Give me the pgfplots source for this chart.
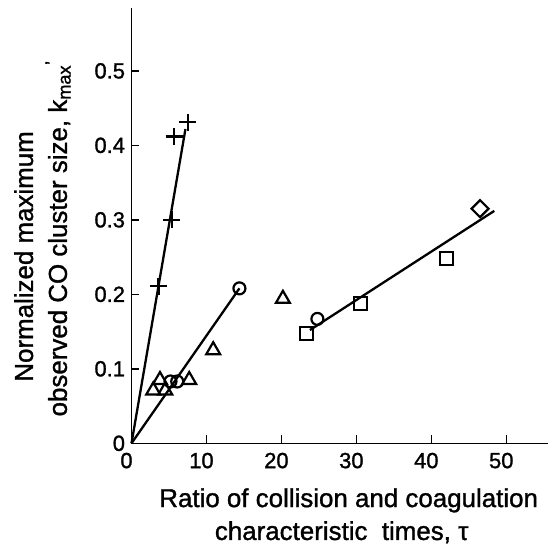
\documentclass[border=0pt]{standalone}
\usepackage{pgfplots}
\pgfplotsset{compat=1.18}
\usepackage{fontspec}
\setmainfont{Liberation Sans}[BoldFont={Liberation Sans}, BoldFeatures={FakeBold=1.2}]
\begin{document}
\begin{tikzpicture}
\useasboundingbox (-131.5bp,-105.7bp) rectangle (416.5bp,443.3bp);
\begin{axis}[
  scale only axis, width=416bp, height=435bp,
  xmin=0, xmax=55.5, ymin=0, ymax=0.584,
  axis lines=left, axis line style={-, line width=1.6bp},
  xtick={0,10,20,30,40,50}, ytick={0,0.1,0.2,0.3,0.4,0.5},
  tick align=inside, major tick length=8bp,
  tick style={line width=1.4bp, black},
  /pgf/number format/assume math mode=true,
  ticklabel style={font=\fontsize{22}{26}\selectfont\bfseries},
  xticklabel style={yshift=-6bp, xshift=-5bp},
  yticklabel style={xshift=-3bp},
  xlabel={Ratio of collision and coagulation\\characteristic\ \ times, τ\hspace*{14bp}},
  xlabel style={at={(axis description cs:0.522,-0.103)}, anchor=north, align=center, inner sep=0pt, font=\fontsize{26}{33}\selectfont\bfseries},
  ylabel={Normalized maximum\hspace*{36bp}\\observed CO cluster size, k\textsubscript{max}\textsuperscript{'}},
  ylabel style={at={(axis description cs:-0.214,0.471)}, anchor=center, align=center, inner sep=0pt, font=\fontsize{26}{34}\selectfont\bfseries},
  clip=false,
]
\addplot[black, line width=2.3bp] coordinates {(0,0) (7.2,0.422)};
\addplot[black, line width=2.3bp] coordinates {(0,0) (14.4,0.208)};
\addplot[black, line width=2.3bp] coordinates {(23.8,0.152) (48.4,0.312)};
\addplot[only marks, black, mark=+, mark size=8.5bp, mark options={line width=2.4bp}]
  coordinates {(3.6,0.211) (5.4,0.300) (5.7,0.412) (7.5,0.431)};
\addplot[only marks, black, mark=triangle, mark size=8bp, mark options={line width=2.2bp, fill=white}]
  coordinates {(2.9,0.071) (4.5,0.071) (3.8,0.085) (7.7,0.085) (10.9,0.125) (20.2,0.194)};
\addplot[only marks, black, mark=o, mark size=6bp, mark options={line width=2.2bp, fill=white}]
  coordinates {(5.2,0.083) (6.1,0.083) (14.4,0.208) (24.8,0.167)};
\addplot[only marks, black, mark=square, mark size=6.5bp, mark options={line width=2.2bp, fill=white}]
  coordinates {(23.4,0.147) (30.6,0.188) (42.0,0.248)};
\addplot[only marks, black, mark=square, mark size=6bp, mark options={line width=2.2bp, fill=white, rotate=45}]
  coordinates {(46.5,0.315)};
\end{axis}
\end{tikzpicture}
\end{document}
